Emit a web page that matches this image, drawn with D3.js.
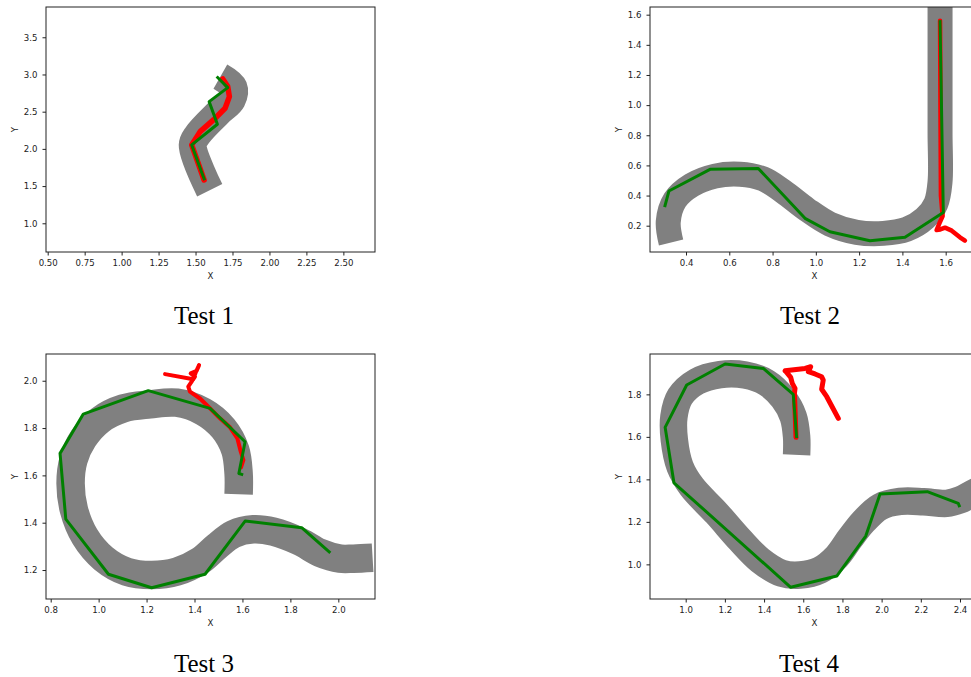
<!DOCTYPE html>
<html>
<head>
<meta charset="utf-8">
<script src="https://cdn.jsdelivr.net/npm/d3@7"></script>
<style>
    body { margin: 0; background: #fff; }
    svg { display: block; overflow: hidden; }
    .tick text { font-family: "DejaVu Sans", sans-serif; font-size: 8.6px; fill: #222; }
    .tick line { stroke: #222; }
    .axis-label { font-family: "DejaVu Sans", sans-serif; font-size: 8.6px; fill: #222; }
    .caption { font-family: "Liberation Serif", "Times New Roman", serif; font-size: 25px; fill: #000; }
</style>
</head>
<body>
<svg id="chart" width="971" height="677"></svg>
<script>
    // track centre lines, driven paths (red) and planned waypoints (green)
    var test1Track = [[1.596, 1.444], [1.481, 2.048], [1.513, 2.187], [1.655, 2.487], [1.745, 2.658], [1.756, 2.828], [1.668, 2.971]];
    var test1Path = [[1.558, 1.582], [1.474, 2.053], [1.531, 2.232], [1.621, 2.389], [1.700, 2.546], [1.729, 2.703], [1.718, 2.837], [1.684, 2.940]];
    var test1Plan = [[1.558, 1.596], [1.474, 2.053], [1.648, 2.331], [1.592, 2.635], [1.718, 2.824], [1.650, 2.958]];
    var test1XTicks = [0.5, 0.75, 1.0, 1.25, 1.5, 1.75, 2.0, 2.25, 2.5];
    var test1YTicks = [1.0, 1.5, 2.0, 2.5, 3.0, 3.5];

    var test2Track = [[0.331, 0.089], [0.318, 0.227], [0.349, 0.370], [0.426, 0.469], [0.534, 0.529], [0.650, 0.541],
        [0.757, 0.510], [0.850, 0.426], [0.958, 0.308], [1.065, 0.211], [1.189, 0.156], [1.312, 0.149], [1.420, 0.176],
        [1.504, 0.249], [1.555, 0.348], [1.574, 0.492], [1.574, 0.813], [1.574, 1.255], [1.574, 1.760]];
    var test2Path = [[1.574, 1.560], [1.576, 0.950], [1.578, 0.400], [1.586, 0.264], [1.571, 0.216], [1.558, 0.171],
        [1.575, 0.175], [1.597, 0.187], [1.628, 0.167], [1.666, 0.123], [1.689, 0.101]];
    var test2Plan = [[0.303, 0.333], [0.321, 0.430], [0.511, 0.574], [0.734, 0.580], [0.950, 0.249], [1.065, 0.160],
        [1.250, 0.100], [1.412, 0.123], [1.589, 0.288], [1.574, 1.554]];
    var test2XTicks = [0.4, 0.6, 0.8, 1.0, 1.2, 1.4, 1.6];
    var test2YTicks = [0.2, 0.4, 0.6, 0.8, 1.0, 1.2, 1.4, 1.6];

    var test3Track = [[1.584, 1.520], [1.584, 1.608], [1.570, 1.707], [1.520, 1.799], [1.437, 1.869], [1.326, 1.907],
        [1.214, 1.900], [1.103, 1.883], [1.006, 1.834], [0.936, 1.756], [0.895, 1.665], [0.883, 1.566], [0.897, 1.454],
        [0.943, 1.341], [1.020, 1.249], [1.117, 1.193], [1.221, 1.179], [1.326, 1.193], [1.423, 1.239], [1.492, 1.299],
        [1.562, 1.352], [1.645, 1.372], [1.729, 1.362], [1.840, 1.320], [1.923, 1.273], [2.007, 1.248], [2.063, 1.248],
        [2.143, 1.252]];
    var test3Path = [[1.594, 1.634], [1.604, 1.665], [1.593, 1.700], [1.579, 1.756], [1.548, 1.803], [1.506, 1.841],
        [1.465, 1.883], [1.423, 1.925], [1.381, 1.954], [1.374, 1.975], [1.388, 1.996], [1.402, 2.017], [1.384, 2.031],
        [1.409, 2.042], [1.419, 2.066], [1.406, 2.038], [1.395, 2.006], [1.277, 2.028]];
    var test3Plan = [[1.597, 1.604], [1.585, 1.608], [1.611, 1.742], [1.465, 1.883], [1.207, 1.958], [0.936, 1.859],
        [0.839, 1.693], [0.863, 1.415], [1.041, 1.182], [1.221, 1.125], [1.444, 1.182], [1.611, 1.407], [1.847, 1.379],
        [1.962, 1.277]];
    var test3XTicks = [0.8, 1.0, 1.2, 1.4, 1.6, 1.8, 2.0];
    var test3YTicks = [1.2, 1.4, 1.6, 1.8, 2.0];

    var test4Track = [[1.566, 1.515], [1.566, 1.601], [1.549, 1.695], [1.498, 1.781], [1.413, 1.855], [1.303, 1.891],
        [1.175, 1.893], [1.056, 1.860], [0.971, 1.789], [0.940, 1.695], [0.942, 1.585], [0.971, 1.460], [1.031, 1.365],
        [1.158, 1.240], [1.277, 1.115], [1.379, 1.020], [1.490, 0.958], [1.583, 0.950], [1.685, 0.973], [1.771, 1.036],
        [1.839, 1.122], [1.907, 1.201], [1.992, 1.271], [2.094, 1.296], [2.213, 1.295], [2.332, 1.287], [2.400, 1.303],
        [2.459, 1.331], [2.536, 1.369]];
    var test4Path = [[1.563, 1.598], [1.555, 1.805], [1.558, 1.828], [1.544, 1.852], [1.536, 1.880], [1.512, 1.907],
        [1.507, 1.911], [1.609, 1.922], [1.638, 1.930], [1.626, 1.907], [1.660, 1.896], [1.694, 1.883], [1.702, 1.867],
        [1.694, 1.824], [1.720, 1.789], [1.779, 1.687]];
    var test4Plan = [[1.566, 1.601], [1.549, 1.800], [1.396, 1.922], [1.201, 1.943], [1.005, 1.844], [0.895, 1.645],
        [0.940, 1.384], [1.536, 0.892], [1.771, 0.945], [1.919, 1.133], [1.992, 1.331], [2.233, 1.342], [2.391, 1.287],
        [2.396, 1.276]];
    var test4XTicks = [1.0, 1.2, 1.4, 1.6, 1.8, 2.0, 2.2, 2.4];
    var test4YTicks = [1.0, 1.2, 1.4, 1.6, 1.8];

    var captions = ["Test 1", "Test 2", "Test 3", "Test 4"];

    // layout of the four axes
    var panels = [
        { track: test1Track, path: test1Path, plan: test1Plan, xTicks: test1XTicks, yTicks: test1YTicks, xFormat: ".2f",
          xDomain: [0.4885, 2.714], yDomain: [0.614, 3.907], left: 46, top: 7, trackWidth: 28, pathWidth: 5.5 },
        { track: test2Track, path: test2Path, plan: test2Plan, xTicks: test2XTicks, yTicks: test2YTicks, xFormat: ".1f",
          xDomain: [0.2336, 1.754], yDomain: [0.0255, 1.651], left: 650, top: 7, trackWidth: 25, pathWidth: 4.5 },
        { track: test3Track, path: test3Path, plan: test3Plan, xTicks: test3XTicks, yTicks: test3YTicks, xFormat: ".1f",
          xDomain: [0.7804, 2.153], yDomain: [1.0775, 2.113], left: 46, top: 354, trackWidth: 28.5, pathWidth: 4 },
        { track: test4Track, path: test4Path, plan: test4Plan, xTicks: test4XTicks, yTicks: test4YTicks, xFormat: ".1f",
          xDomain: [0.8178, 2.497], yDomain: [0.837, 1.990], left: 650, top: 354, trackWidth: 27.5, pathWidth: 5 }
    ];
    var axW = 329, axH = 245;
    var captionPos = [[204, 324], [810, 324], [204, 672], [809, 672]];

    var svg = d3.select("#chart");
    var defs = svg.append("defs");

    panels.forEach(function (p, i) {
        var x = d3.scaleLinear().domain(p.xDomain).range([0, axW]);
        var y = d3.scaleLinear().domain(p.yDomain).range([axH, 0]);
        var clipName = "clip" + i;
        defs.append("clipPath").attr("id", clipName)
            .append("rect").attr("width", axW).attr("height", axH);

        var g = svg.append("g").attr("transform", "translate(" + p.left + "," + p.top + ")");
        var plot = g.append("g").style("clip-path", "url(#" + clipName + ")");

        var smooth = d3.line().x(function (d) { return x(d[0]); }).y(function (d) { return y(d[1]); })
            .curve(d3.curveCatmullRom.alpha(0.5));
        var straight = d3.line().x(function (d) { return x(d[0]); }).y(function (d) { return y(d[1]); });

        plot.append("path")
            .attr("d", smooth(p.track))
            .attr("fill", "none")
            .attr("stroke", "#808080")
            .attr("stroke-width", p.trackWidth)
            .attr("stroke-linecap", "butt")
            .attr("stroke-linejoin", "round");
        plot.append("path")
            .attr("d", straight(p.path))
            .attr("fill", "none")
            .attr("stroke", "#ff0000")
            .attr("stroke-width", p.pathWidth)
            .attr("stroke-linecap", "round")
            .attr("stroke-linejoin", "round");
        plot.append("path")
            .attr("d", straight(p.plan))
            .attr("fill", "none")
            .attr("stroke", "#008000")
            .attr("stroke-width", 3)
            .attr("stroke-linecap", "square")
            .attr("stroke-linejoin", "round");

        var xAxis = d3.axisBottom(x).tickValues(p.xTicks).tickFormat(d3.format(p.xFormat))
            .tickSize(3.5).tickPadding(4.5);
        var yAxis = d3.axisLeft(y).tickValues(p.yTicks).tickFormat(d3.format(".1f"))
            .tickSize(3.5).tickPadding(5);
        var gx = g.append("g").attr("transform", "translate(0," + axH + ")").call(xAxis);
        var gy = g.append("g").call(yAxis);
        gx.select(".domain").remove();
        gy.select(".domain").remove();
        g.selectAll(".tick text").attr("font-family", null).attr("font-size", null);

        g.append("rect")
            .attr("width", axW).attr("height", axH)
            .attr("fill", "none")
            .attr("stroke", "#222")
            .attr("stroke-width", 1);

        g.append("text").attr("class", "axis-label")
            .attr("x", axW / 2).attr("y", axH + 26.5)
            .attr("text-anchor", "middle")
            .text("X");
        g.append("text").attr("class", "axis-label")
            .attr("transform", "translate(-28.5," + (axH / 2) + ") rotate(-90)")
            .attr("text-anchor", "middle")
            .text("Y");

        svg.append("text").attr("class", "caption")
            .attr("x", captionPos[i][0]).attr("y", captionPos[i][1])
            .attr("text-anchor", "middle")
            .text(captions[i]);
    });
</script>
</body>
</html>
